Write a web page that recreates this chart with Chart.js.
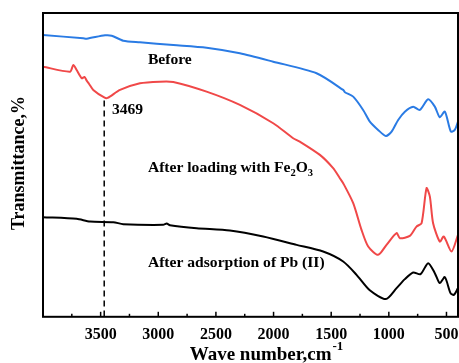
<!DOCTYPE html>
<html>
<head>
<meta charset="utf-8">
<script src="https://cdn.jsdelivr.net/npm/chart.js@4/dist/chart.umd.min.js"></script>
<style>
  html, body { margin: 0; padding: 0; background: #fff; }
  #wrap { width: 459px; height: 363px; }
</style>
</head>
<body>
<div id="wrap"><canvas id="c"></canvas></div>
<script>
// ── spectra (wave number, arbitrary transmittance) ──
var beforeWn = [4000, 3651, 3621, 3462, 3404, 3304, 3159, 2870, 2581, 2292, 2003, 1627, 1396, 1381, 1309, 1223, 1165, 1093, 1026, 976, 919, 861, 789, 731, 659, 601, 558, 514, 462, 428, 400];
var beforeT  = [282, 278.7, 278.3, 281.7, 281.3, 276.3, 274.7, 272, 269.3, 263.7, 255.3, 243.7, 227, 224.7, 220.3, 207, 195.3, 187, 181, 185.3, 197, 205.3, 210.3, 207, 217.7, 210.3, 199.7, 205.3, 185.3, 187, 195.3];

var loadedWn = [4000, 3766, 3737, 3708, 3664, 3640, 3621, 3600, 3564, 3469, 3440, 3332, 3159, 2985, 2870, 2581, 2292, 2003, 1830, 1772, 1598, 1483, 1425, 1396, 1309, 1237, 1179, 1093, 1020, 933, 904, 818, 760, 716, 673, 644, 616, 558, 523, 456, 400];
var loadedT  = [250.3, 245.3, 252, 247, 238.7, 240, 236.3, 233, 227, 219.5, 219, 227, 233.7, 235.3, 235, 225.3, 212, 193.7, 178.7, 175.3, 162, 148.7, 138.7, 133.7, 113.7, 87, 70.3, 62, 72, 83.7, 78.7, 81, 90.3, 93.7, 128.7, 120.3, 93.7, 75.3, 80.3, 65.3, 82];

var adsorbedWn = [4000, 3708, 3592, 3390, 3304, 2957, 2927, 2899, 2667, 2379, 2090, 1800, 1570, 1396, 1280, 1165, 1026, 933, 861, 789, 725, 659, 601, 558, 514, 465, 436, 400];
var adsorbedT  = [99.7, 98, 95.3, 94.7, 92.7, 92, 93.3, 91.7, 88.7, 86.3, 80.3, 72, 65.3, 55.3, 42, 26.5, 17.7, 28.7, 37.7, 44.3, 42.7, 53.7, 43.7, 33.7, 39.7, 23.7, 22, 28.7];

var seriesNames  = ["Before", "After loading with Fe2O3", "After adsorption of Pb (II)"];
var seriesColors = ["#2a7be4", "#f04848", "#000000"];
var xTickLabels  = [3500, 3000, 2500, 2000, 1500, 1000, 500];
var xMinorTicks  = [3750, 3250, 2750, 2250, 1750, 1250, 750];
var peakWn = 3469;
var peakT  = 219.5;

function pts(wn, t) {
  return wn.map(function(w, i) { return { x: w, y: t[i] }; });
}

var serif = '"Liberation Serif", "Times New Roman", serif';

// ── frame, inward ticks, dashed marker and labels ──
var decor = {
  id: "decor",
  afterDraw: function(chart) {
    var ctx = chart.ctx, a = chart.chartArea;
    var xs = chart.scales.x, ys = chart.scales.y;
    ctx.save();

    // dashed line at 3469
    var px = xs.getPixelForValue(peakWn);
    ctx.strokeStyle = "#000";
    ctx.lineWidth = 1.5;
    ctx.setLineDash([6, 4]);
    ctx.beginPath();
    ctx.moveTo(px, ys.getPixelForValue(peakT) + 3);
    ctx.lineTo(px, a.bottom);
    ctx.stroke();
    ctx.setLineDash([]);

    // frame
    ctx.lineWidth = 2;
    ctx.strokeRect(a.left, a.top, a.right - a.left, a.bottom - a.top);

    // bottom ticks pointing inward
    ctx.lineWidth = 1.5;
    xs.ticks.forEach(function(t) {
      var x = xs.getPixelForValue(t.value);
      var len = t.value % 500 === 0 ? 5 : 3;
      ctx.beginPath();
      ctx.moveTo(x, a.bottom);
      ctx.lineTo(x, a.bottom - len);
      ctx.stroke();
    });

    ctx.fillStyle = "#000";
    ctx.textBaseline = "middle";
    ctx.textAlign = "left";
    var fLbl = "bold 15.6px " + serif;
    var fSub = "bold 10.5px " + serif;

    function label(txt, wn, t) {
      ctx.font = fLbl;
      ctx.fillText(txt, xs.getPixelForValue(wn), ys.getPixelForValue(t));
    }
    label(seriesNames[0], 3090, 257);
    label(String(peakWn), 3402, 207);
    label(seriesNames[2], 3090, 54);

    // "After loading with Fe2O3" with subscripts
    var x0 = xs.getPixelForValue(3090), y0 = ys.getPixelForValue(149);
    var parts = [["After loading with Fe", 0], ["2", 1], ["O", 0], ["3", 1]];
    parts.forEach(function(p) {
      ctx.font = p[1] ? fSub : fLbl;
      ctx.fillText(p[0], x0, y0 + (p[1] ? 5 : 0));
      x0 += ctx.measureText(p[0]).width;
    });

    // x axis title with superscript
    ctx.font = "bold 19px " + serif;
    var main = "Wave number,cm";
    var wMain = ctx.measureText(main).width;
    ctx.font = "bold 13px " + serif;
    var wSup = ctx.measureText("-1").width;
    var sx = 266 - (wMain + wSup) / 2;
    ctx.font = "bold 19px " + serif;
    ctx.fillText(main, sx, 355);
    ctx.font = "bold 13px " + serif;
    ctx.fillText("-1", sx + wMain + 1, 347);

    // y axis title
    ctx.translate(19, 163);
    ctx.rotate(-Math.PI / 2);
    ctx.textAlign = "center";
    ctx.font = "bold 18px " + serif;
    ctx.fillText("Transmittance,%", 0, 0);

    ctx.restore();
  }
};

new Chart(document.getElementById("c"), {
  type: "line",
  data: {
    datasets: [
      { label: seriesNames[0], data: pts(beforeWn, beforeT), borderColor: seriesColors[0] },
      { label: seriesNames[1], data: pts(loadedWn, loadedT), borderColor: seriesColors[1] },
      { label: seriesNames[2], data: pts(adsorbedWn, adsorbedT), borderColor: seriesColors[2] }
    ].map(function(d) {
      d.borderWidth = 2; d.pointRadius = 0; d.tension = 0.25; d.fill = false;
      return d;
    })
  },
  plugins: [decor],
  options: {
    responsive: true,
    maintainAspectRatio: false,
    animation: false,
    layout: { padding: { left: 43, right: 1, top: 13, bottom: 11 } },
    plugins: { legend: { display: false }, tooltip: { enabled: false } },
    scales: {
      x: {
        type: "linear", reverse: true, min: 400, max: 4000,
        grid: { display: false, drawTicks: false },
        border: { display: false },
        afterBuildTicks: function(scale) {
          scale.ticks = xTickLabels.concat(xMinorTicks)
            .sort(function(p, q) { return p - q; })
            .map(function(v) { return { value: v }; });
        },
        afterFit: function(scale) { scale.paddingLeft = 0; scale.paddingRight = 0; },
        ticks: {
          autoSkip: false, maxRotation: 0, padding: 8,
          color: "#000", font: { family: serif, size: 16, weight: "bold" },
          callback: function(v) { return xTickLabels.indexOf(v) >= 0 ? String(v) : ""; }
        }
      },
      y: { display: false, min: 0, max: 304 }
    }
  }
});
</script>
</body>
</html>
